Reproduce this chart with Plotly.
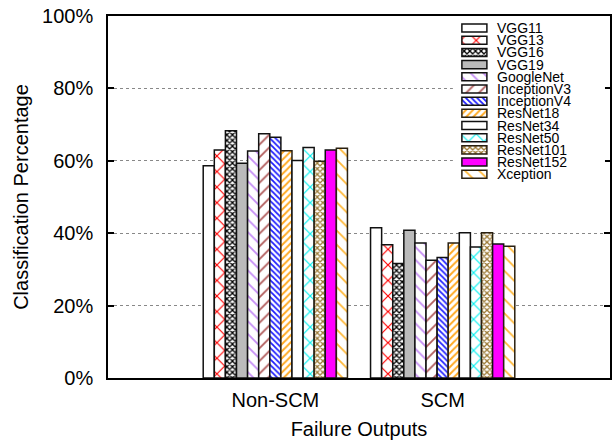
import plotly.graph_objects as go

# ---------------- data ----------------
categories = ["Non-SCM", "SCM"]
models = ["VGG11", "VGG13", "VGG16", "VGG19", "GoogleNet", "InceptionV3",
          "InceptionV4", "ResNet18", "ResNet34", "ResNet50", "ResNet101",
          "ResNet152", "Xception"]
non_scm = [58.6, 63.0, 68.3, 59.3, 62.7, 67.5, 66.5, 62.8, 60.1, 63.7, 59.9, 63.0, 63.5]
scm = [41.5, 36.8, 31.6, 40.8, 37.3, 32.5, 33.3, 37.3, 40.1, 36.2, 40.1, 37.0, 36.4]
y_tick_vals = [0, 20, 40, 60, 80, 100]
y_tick_text = ["0%", "20%", "40%", "60%", "80%", "100%"]

# ---------------- styles ----------------
# (fill colour, pattern shape, pattern colour, pattern size, solidity, outline)
styles = [
    ("white", "", "black", 8, 0.3, "#111111"),
    ("white", "x", "#ff0000", 11, 0.2, "#111111"),
    ("white", "x", "#000000", 4, 0.55, "#111111"),
    ("#bbbbbb", "", "black", 8, 0.3, "#111111"),
    ("white", "\\", "#c58cf5", 9, 0.2, "#111111"),
    ("white", "/", "#b05a5a", 9, 0.2, "#111111"),
    ("white", "\\", "#1f1fff", 4, 0.45, "#111111"),
    ("white", "/", "#ffaa22", 5, 0.4, "#2a2010"),
    ("white", "", "black", 8, 0.3, "#111111"),
    ("white", "x", "#00f0f0", 11, 0.2, "#111111"),
    ("white", "x", "#9c7a35", 4, 0.55, "#2a2010"),
    ("#ff00ff", "", "black", 8, 0.3, "#111111"),
    ("white", "\\", "#ffb735", 10, 0.18, "#2a2010"),
]

FONT = "Liberation Sans, Arial, sans-serif"

fig = go.Figure()

def marker_for(st):
    fill, shape, fg, size, sol, outline = st
    m = dict(color=fill, line=dict(color=outline, width=1.5))
    if shape:
        m["pattern"] = dict(shape=shape, fgcolor=fg, bgcolor=fill, size=size,
                            solidity=sol, fillmode="replace")
    return m

for i, name in enumerate(models):
    fig.add_trace(go.Bar(
        name=name, x=categories, y=[non_scm[i], scm[i]],
        marker=marker_for(styles[i]), showlegend=False,
    ))

# ---------- custom compact legend (drawn on an invisible overlay axis) ----------
for i, name in enumerate(models):
    fig.add_trace(go.Bar(
        x=[25], y=[i], base=[9], orientation="h", width=0.66, offset=-0.33,
        xaxis="x2", yaxis="y2", marker=marker_for(styles[i]),
        showlegend=False, hoverinfo="skip",
    ))
    fig.add_annotation(x=43, y=i, xref="x2", yref="y2", text=name,
                       xanchor="left", yanchor="middle", showarrow=False,
                       borderpad=0,
                       font=dict(family=FONT, size=14, color="black"))

fig.update_layout(
    width=616, height=444, autosize=False,
    margin=dict(l=108, r=6, t=16, b=66, autoexpand=False),
    # slightly-translucent white forces plotly to paint a separate background
    # for the overlapping legend sub-plot, hiding the grid lines beneath it
    paper_bgcolor="white", plot_bgcolor="rgba(255,255,255,0.999)",
    barmode="group", bargap=0.138, bargroupgap=0,
    font=dict(family=FONT, size=20, color="black"),
    showlegend=False,
    xaxis=dict(
        type="category", range=[-1, 2], showgrid=False, automargin=False,
        showline=True, linecolor="black", linewidth=1.5, mirror=True,
        ticks="", tickfont=dict(size=20), ticklabelstandoff=3,
        title=dict(text="Failure Outputs", font=dict(size=20), standoff=12),
    ),
    yaxis=dict(
        range=[0, 100], tickvals=y_tick_vals, ticktext=y_tick_text,
        automargin=False,
        showline=True, linecolor="black", linewidth=1.5, mirror="ticks",
        ticks="inside", ticklen=6, tickwidth=1.5, tickcolor="black",
        showgrid=True, gridcolor="#888888", gridwidth=1, griddash="dot",
        zeroline=False, tickfont=dict(size=20), ticklabelstandoff=9,
        title=dict(text="Classification Percentage", font=dict(size=20),
                   standoff=8),
    ),
    xaxis2=dict(domain=[0.687, 0.990], range=[0, 152], visible=False,
                anchor="y2", fixedrange=True),
    yaxis2=dict(domain=[0.530, 0.997], range=[12.98, -0.904], visible=False,
                anchor="x2", fixedrange=True),
)

fig.write_html(
    "out.html",
    config={"responsive": False, "displayModeBar": False},
    post_script="document.body.style.margin='0';"
                "document.body.style.overflow='hidden';",
)
